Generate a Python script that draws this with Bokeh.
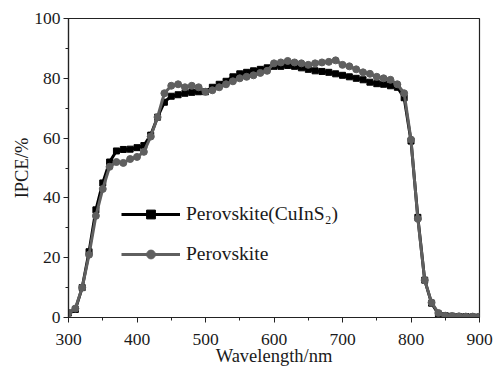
from bokeh.plotting import figure
from bokeh.models import SingleIntervalTicker, Range1d
from bokeh.embed import file_html
from bokeh.resources import INLINE

wavelength = list(range(300, 901, 10))
ipce_cuins2 = [1.5, 2.7, 10, 22, 36, 45, 52, 55.7, 56.2, 56.3,
               56.8, 57.5, 61, 67, 72, 74, 74.5, 75, 75.3, 75.5,
               75.5, 77, 78, 79, 80.5, 81.5, 82, 82.5, 83, 83.5,
               84, 84, 84.3, 84, 83.5, 83, 82.5, 82.3, 82, 81.5,
               81, 80.5, 80, 79.5, 78.7, 78.2, 78, 77.5, 77, 73.5,
               59, 33.5, 12.5, 4.8, 1.2, 0.6, 0.4, 0.3, 0.3, 0.2, 0.2]
ipce_pero = [1.5, 3, 10, 21, 34, 43, 50.4, 52, 51.7, 53,
             53.7, 55.4, 60.5, 67, 75, 77.5, 78, 77, 77.5, 77,
             75.5, 76, 77, 78, 79, 80, 80.5, 81, 81.8, 82.5,
             85, 85.3, 85.8, 85.3, 85, 84.5, 85, 85.3, 85.5, 86,
             84.5, 84, 83, 82, 81.5, 80.5, 80, 79.5, 78, 75,
             59.5, 33, 12.5, 5, 1.5, 0.6, 0.5, 0.4, 0.3, 0.3, 0.3]
label_a = "Perovskite(CuInS\u2082)"
label_b = "Perovskite"
x_label = "Wavelength/nm"
y_label = "IPCE/%"

FONT = "Liberation Serif"

p = figure(width=495, height=368, output_backend="svg", toolbar_location=None,
           min_border_left=68, min_border_right=16, min_border_top=18, min_border_bottom=50,
           x_range=Range1d(300, 900), y_range=Range1d(0, 100))
p.background_fill_color = "white"
p.border_fill_color = "white"
p.outline_line_color = "#222222"
p.outline_line_width = 1.2
p.xgrid.visible = False
p.ygrid.visible = False

p.xaxis.ticker = SingleIntervalTicker(interval=100, num_minor_ticks=2)
p.yaxis.ticker = SingleIntervalTicker(interval=20, num_minor_ticks=2)
for ax in (p.xaxis[0], p.yaxis[0]):
    ax.axis_line_color = "#222222"
    ax.axis_line_width = 1.2
    ax.major_tick_line_color = "#222222"
    ax.minor_tick_line_color = "#222222"
    ax.major_tick_in = 0
    ax.major_tick_out = 5
    ax.minor_tick_in = 0
    ax.minor_tick_out = 3
    ax.major_label_text_font = FONT
    ax.major_label_text_font_size = "17.5px"
    ax.major_label_text_color = "#1a1a1a"
    ax.axis_label_text_font = FONT
    ax.axis_label_text_font_size = "18.5px"
    ax.axis_label_text_font_style = "normal"
    ax.axis_label_text_color = "#1a1a1a"
p.xaxis.axis_label = x_label
p.yaxis.axis_label = y_label
p.xaxis.major_label_standoff = 11
p.yaxis.major_label_standoff = 3
p.xaxis.axis_label_standoff = -2
p.yaxis.axis_label_standoff = -1

p.line(wavelength, ipce_cuins2, line_color="black", line_width=3, legend_label=label_a)
p.scatter(wavelength, ipce_cuins2, marker="square", size=6, fill_color="black",
          line_color="black", legend_label=label_a)
p.line(wavelength, ipce_pero, line_color="#5f5f5f", line_width=3, legend_label=label_b)
p.scatter(wavelength, ipce_pero, marker="circle", size=7, fill_color="#5f5f5f",
          line_color="#5f5f5f", legend_label=label_b)

lg = p.legend[0]
lg.location = (53, 52)
lg.padding = 0
lg.margin = 0
lg.border_line_color = None
lg.background_fill_alpha = 0
lg.glyph_width = 59
lg.glyph_height = 22
lg.label_height = 22
lg.spacing = 18
lg.label_standoff = 6
lg.label_text_font = FONT
lg.label_text_font_size = "19.5px"
lg.label_text_color = "#1a1a1a"

open("out.html", "w").write(file_html(p, INLINE))
